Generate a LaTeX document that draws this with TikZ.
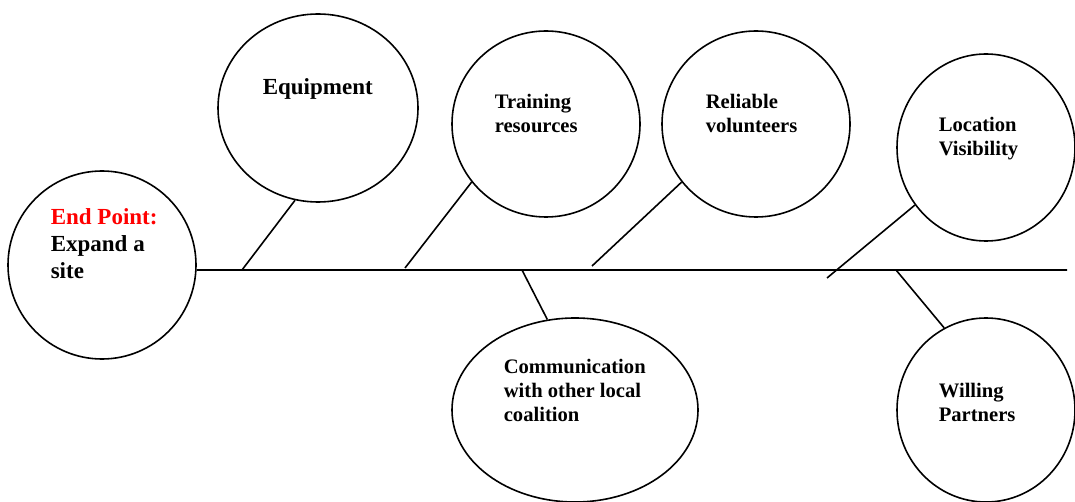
\documentclass[tikz,border=0pt]{standalone}
\usepackage{fontspec}
\setmainfont{Liberation Serif}
\usetikzlibrary{shapes.geometric}
\definecolor{endred}{RGB}{255,0,0}

\begin{document}
\begin{tikzpicture}[x=1pt, y=-1pt, line width=1.6pt,
	bubble/.style={draw, ellipse, inner sep=0pt},
	bigtxt/.style={anchor=base west, align=left, inner sep=0pt, font=\fontsize{23}{27}\selectfont\bfseries},
	smalltxt/.style={anchor=base west, align=left, inner sep=0pt, font=\fontsize{20.6}{24}\selectfont\bfseries}]
	\useasboundingbox (0,0) rectangle (1075,502);
	% head and cause bubbles
	\node[bubble, minimum width=188pt, minimum height=188pt] (endpt) at (102,265) {};
	\node[bubble, minimum width=200pt, minimum height=188pt] (equip) at (318,108) {};
	\node[bubble, minimum width=188pt, minimum height=186pt] (train) at (546,124) {};
	\node[bubble, minimum width=188pt, minimum height=186pt] (rel) at (756,124) {};
	\node[bubble, minimum width=178pt, minimum height=187pt] (loc) at (986,147.5) {};
	\node[bubble, minimum width=246pt, minimum height=184pt] (comm) at (575,410) {};
	\node[bubble, minimum width=178pt, minimum height=184pt] (will) at (986,410) {};
	% texts (anchored on the last line's baseline)
	\node[bigtxt] (endtxt) at (50,279) {\textcolor{endred}{End Point:}\\Expand a\\site};
	\node[bigtxt] (equiptxt) at (262,95) {Equipment};
	\node[smalltxt] (traintxt) at (494,133) {Training\\resources};
	\node[smalltxt] (reltxt) at (705,133) {Reliable\\volunteers};
	\node[smalltxt] (loctxt) at (938,156) {Location\\Visibility};
	\node[smalltxt] (commtxt) at (503,421) {Communication\\with other local\\coalition};
	\node[smalltxt] (willtxt) at (938,421) {Willing\\Partners};
	% spine and bones
	\coordinate (tail) at (1067,270);
	\draw (endpt.-3) -- (tail);
	\coordinate (e1) at (242,270);
	\coordinate (t1) at (405,268);
	\coordinate (r1) at (592,266);
	\coordinate (l1) at (827,278);
	\coordinate (c1) at (522,270);
	\coordinate (w1) at (896,270);
	\draw (e1) -- (equip.256);
	\draw (t1) -- (train.218);
	\draw (r1) -- (rel.218);
	\draw (l1) -- (loc.219);
	\draw (c1) -- (comm.107);
	\draw (w1) -- (will.117);
\end{tikzpicture}
\end{document}
